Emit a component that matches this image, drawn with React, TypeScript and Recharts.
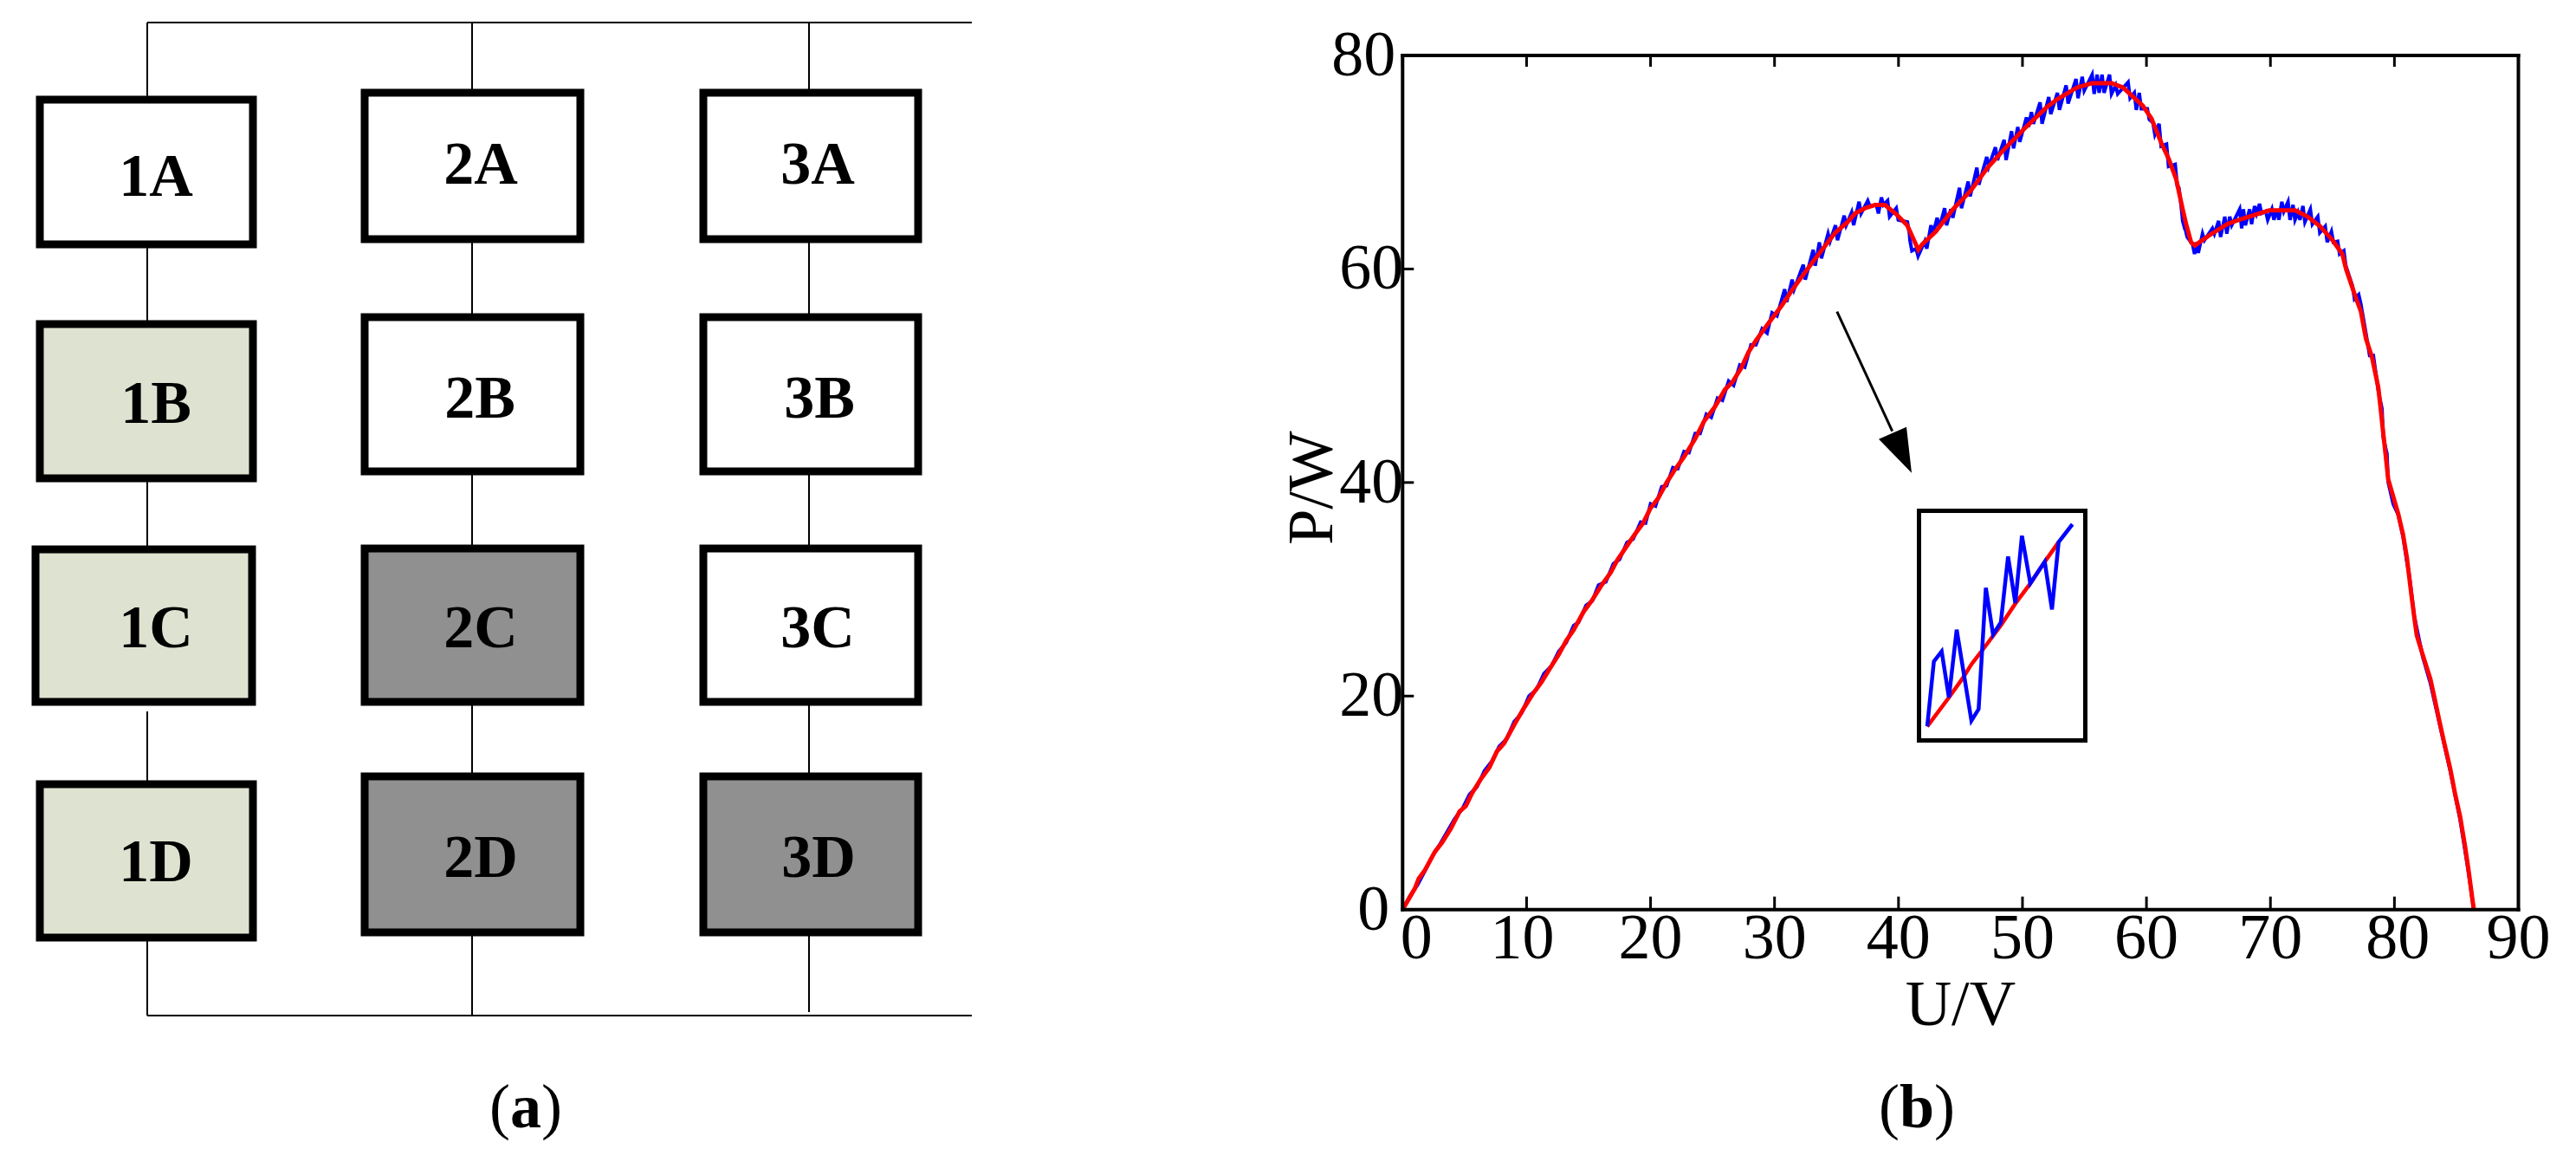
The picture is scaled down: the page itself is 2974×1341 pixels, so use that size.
import { ComposedChart, Line, LineChart, ReferenceArea, ReferenceDot, ReferenceLine, Scatter, XAxis, YAxis } from "recharts";

const SERIF = '"Liberation Serif", "Times New Roman", serif';

// panel (a), schematic units = reference pixels
const blockLabels = ["1A", "1B", "1C", "1D", "2A", "2B", "2C", "2D", "3A", "3B", "3C", "3D"];
const blockLeft = [46, 46, 41, 46, 421, 421, 421, 421, 812, 812, 812, 812];
const blockRight = [292, 292, 291, 292, 670, 670, 670, 670, 1060, 1060, 1060, 1060];
const blockTop = [115, 374, 634, 905, 107, 366, 633, 896, 107, 366, 633, 896];
const blockBottom = [282, 552, 810, 1082, 276, 544, 810, 1076, 276, 544, 810, 1076];
const blockFill = ["#fff", "#dde3d0", "#dde3d0", "#dde3d0", "#fff", "#fff", "#909090", "#909090", "#fff", "#fff", "#fff", "#909090"];
const labelX = [180, 180, 180, 180, 555, 554, 555, 555, 944, 946, 944, 945];
const labelY = [202, 464, 723, 993, 188, 458, 723, 988, 188, 458, 723, 988];

const wireX = [170, 170, 170, 170, 170, 545, 545, 545, 545, 545, 934, 934, 934, 934, 934];
const wireStart = [26, 286, 556, 821, 1086, 26, 280, 548, 814, 1080, 26, 280, 548, 814, 1080];
const wireEnd = [111, 370, 630, 901, 1172, 103, 362, 629, 892, 1172, 103, 362, 629, 892, 1168];
const busY = [26, 1172];
const busStart = 170;
const busEnd = 1122;

// panel (b)
const uTicks = [0, 10, 20, 30, 40, 50, 60, 70, 80, 90];
const pTicks = [0, 20, 40, 60, 80];
const uTickShift: Record<number, number> = { 0: 16, 10: -5, 80: 4 };
const pTickShift: Record<number, number> = { 0: -16, 80: -9 };

const redCurve = [
  [0, 0], [0.5, 1], [1, 2], [1.3, 2.9], [1.8, 3.7], [2.6, 5.4], [3.2, 6.3], [3.9, 7.6], [4.6, 9.2], [5.1, 9.7],
  [5.6, 10.9], [6.3, 12.2], [7, 13.3], [7.6, 14.8], [8.2, 15.6], [9, 17.3], [9.8, 18.9], [10.5, 20.2], [11.2, 21.3],
  [12, 22.8], [12.6, 23.9], [13.2, 25.2], [13.8, 26.2], [14.6, 27.9], [15.3, 29], [16, 30.3], [16.8, 31.6], [17.3, 32.7],
  [18, 33.9], [18.7, 35.1], [19.4, 36.2], [20, 37.6], [20.6, 38.5], [21.3, 40], [21.9, 41.1], [22.7, 42.4], [23.6, 44.1],
  [24.3, 45.7], [25.2, 47.1], [26, 48.7], [26.6, 49.4], [27.3, 50.7], [27.9, 52.2], [28.5, 53.3], [29.5, 54.9], [30.6, 56.6],
  [31.4, 58], [32.4, 59.6], [33.7, 61.6], [34.9, 63.4], [35.9, 64.4], [36.5, 65.2], [37.3, 65.7], [38.1, 66], [38.9, 66],
  [39.75, 65.2], [40.7, 64.1], [41.6, 61.8], [41.9, 62.3], [43, 63.5], [44.4, 65.6], [45.8, 67.3], [47.2, 69.5], [48.6, 71.3],
  [50.2, 73.2], [51.9, 75.1], [52.8, 75.9], [54.4, 77], [55.6, 77.4], [57.2, 77.4], [58.1, 77], [59.7, 75.3], [60.4, 74.1],
  [61.2, 71.8], [61.8, 70.3], [62.4, 68.4], [62.9, 65.7], [63.2, 64.2], [63.6, 62.5], [63.9, 62.2], [65, 63.1], [66.5, 64.2],
  [67.7, 64.7], [69.1, 65.2], [69.9, 65.5], [72, 65.5], [73, 64.9], [74, 64], [75, 62.7], [75.8, 61.4], [76.1, 60], [76.8, 57.6],
  [77.3, 56], [77.7, 53.5], [78.2, 51.7], [78.7, 48.9], [78.9, 46.8], [79.1, 44.6], [79.3, 42.5], [79.5, 40.3], [79.9, 38.7],
  [80.3, 37.1], [80.7, 35.1], [81, 33], [81.2, 31.1], [81.4, 29.2], [81.6, 27.4], [81.8, 25.7], [82.3, 23.8], [82.9, 21.6],
  [83.2, 20], [83.6, 17.8], [84, 15.7], [84.5, 13.2], [84.9, 10.8], [85.3, 8.7], [85.7, 5.9], [86, 3.5], [86.4, 0],
];

// blue trace: rising part, then the noisy bars read one by one, then the falling tail
const blueLead = [
  [0, 0], [0.6, 1.3], [1.2, 2.3], [1.8, 3.6], [2.4, 5], [3, 6.1], [3.6, 7.3], [4.2, 8.5], [4.8, 9.4], [5.4, 10.8], [6, 11.5],
  [6.6, 13], [7.2, 13.9], [7.8, 15.3], [8.4, 16], [9, 17.6], [9.6, 18.4], [10.2, 20], [10.8, 20.6], [11.4, 22.1], [12, 22.8],
  [12.6, 24.2], [13.2, 25], [13.8, 26.6], [14.2, 26.9], [14.8, 28.5], [15.3, 28.9], [15.8, 30.4], [16.4, 30.7], [17, 32.4],
  [17.5, 32.8], [18.1, 34.4], [18.6, 34.7], [19.2, 36.3], [19.6, 36.2], [20, 38], [20.4, 37.8], [20.9, 39.6], [21.3, 39.7],
  [21.8, 41.4], [22.2, 41.3], [22.7, 42.9], [23.1, 42.8], [23.6, 44.6], [24, 44.6], [24.5, 46.4], [24.9, 46.1], [25.4, 47.9],
  [25.8, 47.7], [26.3, 49.5], [26.7, 49.1], [27.2, 51], [27.6, 50.8], [28.1, 52.9], [28.5, 52.9], [29, 54.4], [29.4, 54],
  [29.8, 55.9], [30.2, 55.6],
];
const barU = [
  30.9, 31.5, 32.4, 33.2, 33.7, 34.4, 35, 35.7, 36.3, 36.9, 37.6, 38.3, 38.7, 39.2, 39.9, 40.8, 41, 41.5, 42.2, 42.7, 43.2,
  43.8, 44.3, 45, 45.7, 46.4, 47.2, 47.9, 48.6, 49.2, 49.7, 50.4, 50.8, 51.5, 52.2, 52.9, 53.6, 54.4, 54.9, 55.7, 56.1, 56.5,
  57.1, 57.6, 58.6, 59.1, 59.5, 60.15, 60.6, 61.1, 61.7, 62.4, 62.7, 63, 63.2, 63.8, 64.1, 64.6, 65.4, 65.9, 66.4, 66.8, 67.6,
  67.9, 68.4, 68.8, 69.2, 69.7, 70.2, 70.6, 71, 71.5, 71.9, 72.3, 72.7, 73.3, 73.9, 74.5, 75, 75.5, 76, 76.7, 77.2,
];
const barHigh = [
  58.1, 59, 60.4, 61.8, 62.5, 63.3, 64.1, 65, 65.3, 66.3, 66.4, 66, 66.7, 66.4, 65.7, 64.4, 62.7, 61.9, 62.6, 64.1, 64.8,
  65.7, 65.6, 67.6, 68.2, 69.5, 70.5, 71.4, 72.1, 72.9, 73.3, 74.2, 74.7, 75.6, 76.1, 76.5, 77.2, 77.8, 78, 78.2, 78.2, 78.2,
  78.2, 77.2, 77.5, 76.5, 76.5, 75, 73.7, 73.6, 71.7, 69.8, 67.6, 64.5, 63.8, 62.3, 62.5, 63.3, 63.8, 64.5, 64.9, 64.9, 65.6,
  65.6, 65.6, 65.9, 66.1, 65.4, 65.6, 65.6, 66.3, 66.3, 66, 65.3, 65.9, 65.6, 64.9, 64, 63.5, 62.6, 61.7, 58.4, 57.6,
];
const barLow = [
  56.9, 58.1, 59, 60.3, 61, 62.6, 62.7, 64.1, 64.1, 65.2, 65.9, 65.2, 66, 64.9, 64.6, 63.3, 61.7, 61.2, 61.9, 63.3, 63.8,
  64.1, 64.8, 65.7, 66.8, 67.9, 69.6, 70.2, 70.2, 71.3, 71.9, 73.3, 73.6, 73.6, 74.5, 74.9, 75.5, 76, 76.7, 76.4, 76.5, 76.5,
  76.4, 76.4, 76, 74.9, 75, 74, 72.6, 71.5, 69.6, 67.8, 66.1, 63.8, 63, 61.4, 61.5, 62.7, 63.3, 63, 63.3, 64.1, 63.8,
  64.1, 64.2, 65.2, 65.2, 64.6, 64.6, 64.6, 65.4, 64.6, 64.6, 64.6, 64.4, 64.2, 63.4, 62.5, 62.5, 61.4, 60.3, 57.2, 56.8,
];
const blueTail = [
  [77.7, 54], [78, 51.9], [78.3, 51.9], [78.7, 48.6], [79, 46.9], [79.1, 44.2], [79.4, 42.7], [79.5, 40], [79.9, 38], [80.3, 37],
  [80.7, 34.9], [81, 32.6], [81.2, 31.3], [81.6, 27.5], [82.3, 23.6], [82.9, 21.2], [83.6, 17.6], [84.5, 13], [85.3, 8.4], [86, 3.3], [86.4, 0],
];

const arrowShaft = [[35.04, 56], [39.5, 44.8]];
const arrowTip = [41.06, 40.9];

// inset, own units
const insetBlue = [
  [22.5, 6.5], [24.8, 29], [27.5, 32.5], [30, 16.5], [32.7, 40], [37.8, 8.5], [40.3, 12.5], [42.8, 54.5], [45.3, 38.3],
  [48, 42.5], [50.5, 65.3], [53, 49.2], [55.3, 72.5], [58.2, 56], [63.2, 63.5], [65.7, 47], [68, 70.3], [72.8, 76.5],
];
const insetRed = [[22.5, 6.5], [30, 16.5], [35, 23.5], [37.8, 28], [42.8, 34.5], [48, 41.5], [53, 49], [58.2, 56], [63.2, 63.5], [68, 70.3]];

const toRows = (pts: number[][]) => pts.map(([u, p]) => ({ u, p }));
const labelRows = blockLabels.map((name, i) => ({ name, x: labelX[i], y: labelY[i] }));
const blueRows = [
  ...toRows(blueLead),
  ...barU.flatMap((u, i) => [
    { u: u - 0.08, p: barHigh[i] },
    { u: u + 0.08, p: barLow[i] },
  ]),
  ...toRows(blueTail),
];

function UTick({ x, y, payload }: any) {
  return (
    <text x={x + (uTickShift[payload.value] ?? 0)} y={y + 71} textAnchor="middle" fontFamily={SERIF} fontSize={74} fill="#000">
      {payload.value}
    </text>
  );
}

function PTick({ x, y, payload }: any) {
  return (
    <text x={x - 12 + (pTickShift[payload.value] ?? 0)} y={y + 23} textAnchor="end" fontFamily={SERIF} fontSize={74} fill="#000">
      {payload.value}
    </text>
  );
}

function NoTick() {
  return <g />;
}

function ArrowHead({ cx, cy }: any) {
  return <polygon points={`${cx},${cy} ${cx - 38},${cy - 39} ${cx - 6},${cy - 53}`} fill="#000" />;
}

function BlockLabel({ cx, cy, payload }: any) {
  return (
    <text x={cx} y={cy + 24} textAnchor="middle" fontFamily={SERIF} fontWeight={700} fontSize={70} fill="#000">
      {payload.name}
    </text>
  );
}

function BlockPanel() {
  return (
    <ComposedChart width={1150} height={1341} margin={{ top: 0, right: 0, bottom: 0, left: 0 }}>
      <XAxis type="number" dataKey="x" domain={[0, 1150]} hide />
      <YAxis type="number" dataKey="y" domain={[0, 1341]} reversed hide />
      {busY.map((y) => (
        <ReferenceLine key={y} segment={[{ x: busStart, y }, { x: busEnd, y }]} stroke="#000" strokeWidth={2} ifOverflow="visible" />
      ))}
      {wireX.map((x, i) => (
        <ReferenceLine key={i} segment={[{ x, y: wireStart[i] }, { x, y: wireEnd[i] }]} stroke="#000" strokeWidth={2} ifOverflow="visible" />
      ))}
      {blockLabels.map((name, i) => (
        <ReferenceArea
          key={name}
          x1={blockLeft[i]}
          x2={blockRight[i]}
          y1={blockTop[i]}
          y2={blockBottom[i]}
          fill={blockFill[i]}
          fillOpacity={1}
          stroke="#000"
          strokeWidth={9}
          ifOverflow="visible"
        />
      ))}
      <Scatter data={labelRows} dataKey="y" shape={<BlockLabel />} isAnimationActive={false} />
    </ComposedChart>
  );
}

function CurvePanel() {
  const frame = { stroke: "#000", strokeWidth: 4, strokeLinecap: "square" as const };
  return (
    <ComposedChart width={1524} height={1341} margin={{ top: 63, right: 65.5, bottom: 191.3, left: 69.3 }}>
      <XAxis
        type="number"
        dataKey="u"
        domain={[0, 90]}
        ticks={uTicks}
        interval={0}
        height={100}
        tickSize={-15}
        tickMargin={0}
        axisLine={frame}
        tickLine={{ stroke: "#000", strokeWidth: 3 }}
        tick={<UTick />}
        label={{ value: "U/V", position: "insideTop", dy: 76, fontFamily: SERIF, fontSize: 74, fill: "#000", dx: 0 }}
      />
      <XAxis
        xAxisId="top"
        orientation="top"
        type="number"
        dataKey="u"
        domain={[0, 90]}
        ticks={uTicks}
        interval={0}
        height={1}
        tickSize={-13}
        axisLine={frame}
        tickLine={{ stroke: "#000", strokeWidth: 3 }}
        tick={<NoTick />}
      />
      <YAxis
        type="number"
        dataKey="p"
        domain={[0, 80]}
        ticks={pTicks}
        interval={0}
        width={100}
        tickSize={-13}
        tickMargin={0}
        axisLine={frame}
        tickLine={{ stroke: "#000", strokeWidth: 3 }}
        tick={<PTick />}
        label={{ value: "P/W", angle: -90, position: "insideLeft", dx: -13, dy: 72, fontFamily: SERIF, fontSize: 74, fill: "#000" }}
      />
      <YAxis yAxisId="right" orientation="right" type="number" domain={[0, 80]} width={1} tick={false} tickLine={false} axisLine={frame} />
      {/* keeps the top and right frame axes bound to a series */}
      <Line xAxisId="top" yAxisId="right" data={toRows(redCurve)} dataKey="p" stroke="none" dot={false} isAnimationActive={false} />
      <Line data={blueRows} dataKey="p" stroke="#0000ff" strokeWidth={4} dot={false} isAnimationActive={false} />
      <Line data={toRows(redCurve)} dataKey="p" stroke="#ff0000" strokeWidth={5} dot={false} isAnimationActive={false} />
      <Line data={toRows(arrowShaft)} dataKey="p" stroke="#000" strokeWidth={3} dot={false} isAnimationActive={false} />
      <ReferenceDot x={arrowTip[0]} y={arrowTip[1]} shape={<ArrowHead />} ifOverflow="visible" />
    </ComposedChart>
  );
}

function InsetPanel() {
  return (
    <div style={{ position: "absolute", left: 2213, top: 587, width: 197, height: 270, boxSizing: "border-box", border: "5px solid #000", background: "#fff" }}>
      <LineChart width={187} height={260} margin={{ top: 0, right: 0, bottom: 0, left: 0 }}>
        <XAxis type="number" dataKey="u" domain={[20.4, 76.5]} hide />
        <YAxis type="number" dataKey="p" domain={[2.4, 80.4]} hide />
        <Line data={toRows(insetRed)} dataKey="p" stroke="#ff0000" strokeWidth={4.5} dot={false} isAnimationActive={false} />
        <Line data={toRows(insetBlue)} dataKey="p" stroke="#0000ff" strokeWidth={4.5} dot={false} isAnimationActive={false} />
      </LineChart>
    </div>
  );
}

function Caption({ x, letter }: { x: number; letter: string }) {
  return (
    <div style={{ position: "absolute", left: x - 100, top: 1236, width: 200, textAlign: "center", fontFamily: SERIF, fontSize: 72, lineHeight: "83px", color: "#000" }}>
      (<b>{letter}</b>)
    </div>
  );
}

export default function App() {
  return (
    <div style={{ position: "absolute", left: 0, top: 0, width: 2974, height: 1341, background: "#fff", overflow: "hidden" }}>
      <div style={{ position: "absolute", left: 0, top: 0 }}>
        <BlockPanel />
      </div>
      <div style={{ position: "absolute", left: 1450, top: 0 }}>
        <CurvePanel />
      </div>
      <InsetPanel />
      <Caption x={607} letter="a" />
      <Caption x={2213} letter="b" />
    </div>
  );
}
